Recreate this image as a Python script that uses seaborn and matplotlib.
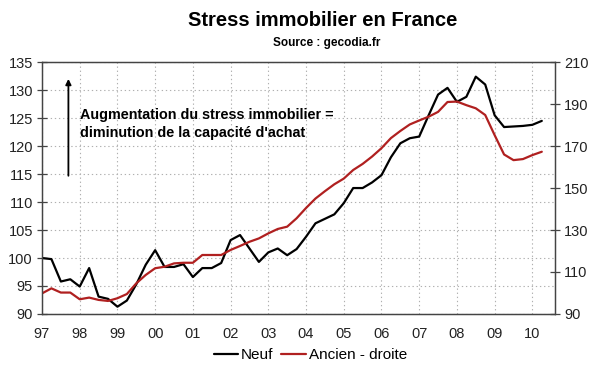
import numpy as np
import pandas as pd
import matplotlib
matplotlib.use("Agg")
import matplotlib.pyplot as plt
import seaborn as sns

# quarterly series, 1997Q1 .. 2010Q2
neuf = [100.0, 99.8, 95.8, 96.2, 94.9, 98.2, 93.1, 92.7,
        91.3, 92.4, 95.3, 98.8, 101.4, 98.4, 98.4, 98.9,
        96.6, 98.2, 98.2, 99.1, 103.2, 104.1, 101.7, 99.3,
        101.0, 101.7, 100.5, 101.6, 103.8, 106.2, 107.0, 107.8,
        109.8, 112.5, 112.5, 113.5, 114.8, 118.0, 120.5, 121.4,
        121.7, 125.5, 129.2, 130.4, 127.9, 128.8, 132.4, 131.0,
        125.5, 123.4, 123.5, 123.6, 123.8, 124.5]
ancien = [99.8, 102.2, 100.2, 100.2, 97.0, 97.8, 96.7, 96.2,
          97.5, 99.5, 104.6, 108.6, 111.8, 112.5, 114.1, 114.4,
          114.4, 118.1, 118.1, 118.1, 120.5, 122.4, 124.4, 126.0,
          128.4, 130.5, 131.6, 135.6, 140.5, 145.0, 148.5, 151.8,
          154.5, 158.6, 161.5, 165.0, 169.0, 173.8, 177.2, 180.3,
          182.2, 184.0, 186.3, 191.0, 191.2, 189.5, 188.0, 184.8,
          175.2, 166.0, 163.3, 163.8, 165.7, 167.3]
years = list(range(1997, 2011))
year_labels = ["97", "98", "99", "00", "01", "02", "03", "04", "05",
               "06", "07", "08", "09", "10"]

t = 1997 + np.arange(len(neuf)) * 0.25
df = pd.DataFrame({"t": t, "Neuf": neuf, "Ancien - droite": ancien})

sns.set_style("white")
plt.rcParams["font.family"] = ["Liberation Sans", "DejaVu Sans"]
plt.rcParams["text.color"] = "black"
plt.rcParams["xtick.labelcolor"] = "#222222"
plt.rcParams["ytick.labelcolor"] = "#222222"

fig = plt.figure(figsize=(6, 3.72), dpi=100)
ax = fig.add_axes([0.07, 0.156, 0.855, 0.677])
ax2 = ax.twinx()

sns.lineplot(data=df, x="t", y="Neuf", ax=ax, color="black", lw=1.6, label="Neuf", legend=False)
sns.lineplot(data=df, x="t", y="Ancien - droite", ax=ax2, color="#B02020", lw=1.6,
             label="Ancien - droite", legend=False)

ax.set_xlim(1997, 2010.6)
ax.set_ylim(90, 135)
ax2.set_ylim(90, 210)
ax.set_yticks(range(90, 136, 5))
ax2.set_yticks(range(90, 211, 20))
ax.set_xticks(years)
ax.set_xticklabels(year_labels)
ax.set_xlabel("")
ax.set_ylabel("")
ax2.set_ylabel("")

ax.grid(True, color="#b0b0b0", linestyle=(0, (1.2, 2.5)), lw=0.8)
ax2.grid(False)
for a in (ax, ax2):
    for s in a.spines.values():
        s.set_color("#444444")
        s.set_linewidth(0.9)
ax.tick_params(axis="both", direction="inout", length=7, width=0.9, color="#444444",
               labelsize=10.5, pad=3)
ax2.tick_params(axis="y", direction="inout", length=7, width=0.9, color="#444444",
                labelsize=10.5, pad=3)
ax.tick_params(axis="x", pad=6)

ax.annotate("", xy=(1997.7, 132.5), xytext=(1997.7, 114.2),
            arrowprops=dict(arrowstyle="-|>", color="black", lw=1.3, mutation_scale=8))
ax.text(1998.0, 126.8, "Augmentation du stress immobilier =\ndiminution de la capacité d'achat",
        fontsize=10.4, fontweight="bold", va="top", ha="left", linespacing=1.4)

fig.text(0.538, 0.945, "Stress immobilier en France", ha="center", va="center",
         fontsize=14.5, fontweight="bold")
fig.text(0.545, 0.885, "Source : gecodia.fr", ha="center", va="center",
         fontsize=8.5, fontweight="bold")

h1, l1 = ax.get_legend_handles_labels()
h2, l2 = ax2.get_legend_handles_labels()
fig.legend(h1 + h2, l1 + l2, loc="center", bbox_to_anchor=(0.517, 0.045), ncol=2,
           frameon=False, fontsize=11, handlelength=1.6, handletextpad=0.2,
           columnspacing=0.5)

fig.savefig("out.png", dpi=100)
